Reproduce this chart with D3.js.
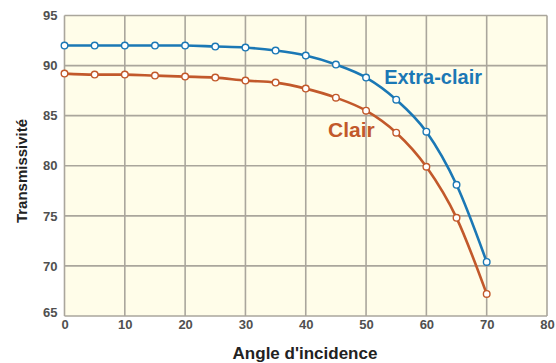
<!DOCTYPE html>
<html>
<head>
<meta charset="utf-8">
<script src="https://cdn.jsdelivr.net/npm/d3@7"></script>
<style>
  html, body { margin: 0; padding: 0; background: #ffffff; }
  svg { display: block; }
</style>
</head>
<body>
<svg id="chart" width="556" height="363"></svg>
<script>
// Transmission of glass vs. angle of incidence
const angles = [0, 5, 10, 15, 20, 25, 30, 35, 40, 45, 50, 55, 60, 65, 70];
const extraClair = [92.0, 92.0, 92.0, 92.0, 92.0, 91.9, 91.8, 91.5, 91.0, 90.1, 88.8, 86.6, 83.4, 78.1, 70.4];
const clair = [89.2, 89.1, 89.1, 89.0, 88.9, 88.8, 88.5, 88.3, 87.7, 86.8, 85.5, 83.3, 79.9, 74.8, 67.2];
const xTicks = [0, 10, 20, 30, 40, 50, 60, 70, 80];
const yTicks = [65, 70, 75, 80, 85, 90, 95];

const series = [
  { name: "Extra-clair", values: extraClair, color: "#1b78b5", label: { x: 53.0, y: 88.15 }, size: 20 },
  { name: "Clair", values: clair, color: "#c2592b", label: { x: 43.7, y: 82.85 }, size: 21 }
];

const svg = d3.select("#chart");
const margin = { left: 64.5, right: 9, top: 15.5, bottom: 47 };
const W = 556, H = 363;

const x = d3.scaleLinear().domain([0, 80]).range([margin.left, W - margin.right]);
const y = d3.scaleLinear().domain([65, 95]).range([H - margin.bottom, margin.top]);

// plot background
svg.append("rect")
  .attr("x", x(0)).attr("y", y(95))
  .attr("width", x(80) - x(0)).attr("height", y(65) - y(95))
  .attr("fill", "#fffde9");

// grid
const grid = svg.append("g").attr("stroke", "#aaa69c").attr("stroke-width", 1.6);
grid.selectAll("line.v").data(xTicks).join("line")
  .attr("x1", d => x(d)).attr("x2", d => x(d))
  .attr("y1", y(95)).attr("y2", y(65));
grid.selectAll("line.h").data(yTicks).join("line")
  .attr("x1", x(0)).attr("x2", x(80))
  .attr("y1", d => y(d)).attr("y2", d => y(d));

// axes (labels only, grid draws the lines)
const font = "'Liberation Sans', Arial, sans-serif";
const xAxis = svg.append("g")
  .attr("transform", `translate(0,${y(65)})`)
  .call(d3.axisBottom(x).tickValues(xTicks).tickSize(0).tickPadding(4));
const yAxis = svg.append("g")
  .attr("transform", `translate(${x(0)},0)`)
  .call(d3.axisLeft(y).tickValues(yTicks).tickSize(0).tickPadding(7));
[xAxis, yAxis].forEach(a => {
  a.select(".domain").remove();
  a.selectAll("text")
    .attr("fill", "#505050")
    .style("font-family", font)
    .style("font-size", "13px")
    .style("font-weight", "bold");
});
yAxis.selectAll("text").filter(d => d === 65).attr("dy", "0.05em");

// titles
svg.append("text")
  .attr("x", 305).attr("y", 359)
  .attr("text-anchor", "middle")
  .attr("fill", "#222")
  .style("font-family", font).style("font-size", "17px").style("font-weight", "bold")
  .text("Angle d'incidence");
svg.append("text")
  .attr("transform", "translate(27,171) rotate(-90)")
  .attr("text-anchor", "middle")
  .attr("fill", "#222")
  .style("font-family", font).style("font-size", "15px").style("font-weight", "bold")
  .text("Transmissivité");

// curves
const line = d3.line()
  .x((d, i) => x(angles[i]))
  .y(d => y(d))
  .curve(d3.curveMonotoneX);

series.forEach(s => {
  svg.append("path")
    .datum(s.values)
    .attr("fill", "none")
    .attr("stroke", s.color)
    .attr("stroke-width", 2.6)
    .attr("d", line);
  svg.append("g").selectAll("circle").data(s.values).join("circle")
    .attr("cx", (d, i) => x(angles[i]))
    .attr("cy", d => y(d))
    .attr("r", 3.3)
    .attr("fill", "#ffffff")
    .attr("stroke", s.color)
    .attr("stroke-width", 1.4);
  svg.append("text")
    .attr("x", x(s.label.x)).attr("y", y(s.label.y))
    .attr("fill", s.color)
    .style("font-family", font).style("font-size", s.size + "px").style("font-weight", "bold")
    .text(s.name);
});
</script>
</body>
</html>
